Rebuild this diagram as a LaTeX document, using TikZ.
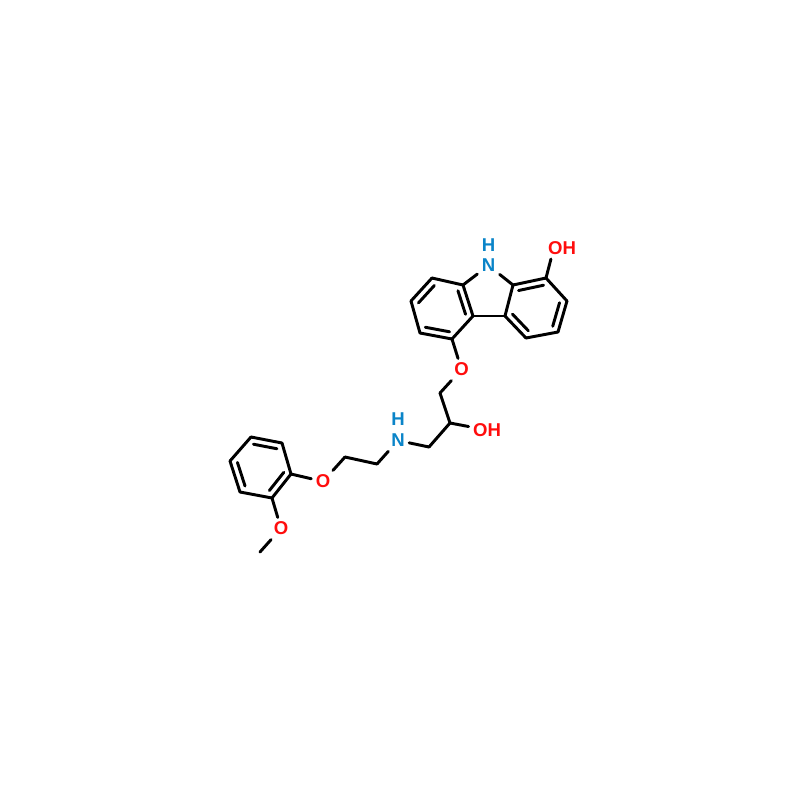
\documentclass[tikz,border=0pt]{standalone}
\usepackage{fontspec}
\setmainfont{Liberation Sans}
\usepackage{xcolor}
\usetikzlibrary{calc}
\definecolor{oxyred}{HTML}{FF0D0D}
\definecolor{nitblue}{HTML}{0A84C8}
\tikzset{
    bond/.style={line width=1.05pt, line cap=round, line join=round, black},
    atomlabel/.style={font=\fontsize{6.6}{8}\selectfont\bfseries, inner sep=1.4pt},
    oxy/.style={atomlabel, text=oxyred},
    nit/.style={atomlabel, text=nitblue}
}
\begin{document}
\begin{tikzpicture}[x=0.0125cm,y=-0.0125cm]
    \useasboundingbox (0,0) rectangle (800,800);

    % Carbon positions
    \foreach \n/\x/\y in {a1/432/278, a2/411/301, a3/420/333, a4/452/339, a5/473/316, a6/463/285,
                          b1/513/285, b2/505/316, b3/526/338, b4/558/332, b5/567/301, b6/546/278,
                          c1/440/393, c2/450/423, c3/429/447, d1/377/464, d2/345/457,
                          e1/291/474, e2/282/443, e3/251/437, e4/230/461, e5/240/492, e6/272/498,
                          me/260/552} {
        \coordinate (\n) at (\x,\y);
    }
    \coordinate (ringa) at (442,309);
    \coordinate (ringb) at (536,308);
    \coordinate (ringe) at (261,467);

    % Atom labels
    \node[nit] (N1) at (488.5,265.5) {N};
    \node[nit] (H1) at (488.5,245.5) {H};
    \node[oxy] (OH1) at (562,248) {OH};
    \node[oxy] (O1) at (461.5,369.5) {O};
    \node[oxy] (OH2) at (487,430) {OH};
    \node[nit] (N2) at (398,440.5) {N};
    \node[nit] (H2) at (398,419.5) {H};
    \node[oxy] (O2) at (323,481.5) {O};
    \node[oxy] (O3) at (281,528.5) {O};

    % Single bonds
    \foreach \p/\q in {a1/a2, a2/a3, a3/a4, a4/a5, a5/a6, a6/a1, a6/N1, N1/b1, a5/b2,
                       b1/b2, b2/b3, b3/b4, b4/b5, b5/b6, b6/b1,
                       a4/O1, O1/c1, c1/c2, c2/OH2, c2/c3, c3/N2, N2/d1, d1/d2, d2/O2, O2/e1,
                       e1/e2, e2/e3, e3/e4, e4/e5, e5/e6, e6/e1, e6/O3, O3/me} {
        \draw[bond] (\p) -- (\q);
    }
    \draw[bond] (b6) -- (OH1.225);

    % Inner lines of the rings
    \foreach \p/\q/\r in {a1/a2/ringa, a3/a4/ringa, a5/a6/ringa,
                          b1/b6/ringb, b2/b3/ringb, b4/b5/ringb,
                          e2/e3/ringe, e4/e5/ringe, e1/e6/ringe} {
        \draw[bond] ($(\p)!0.24!(\r)$) -- ($(\q)!0.24!(\r)$);
    }
\end{tikzpicture}
\end{document}
